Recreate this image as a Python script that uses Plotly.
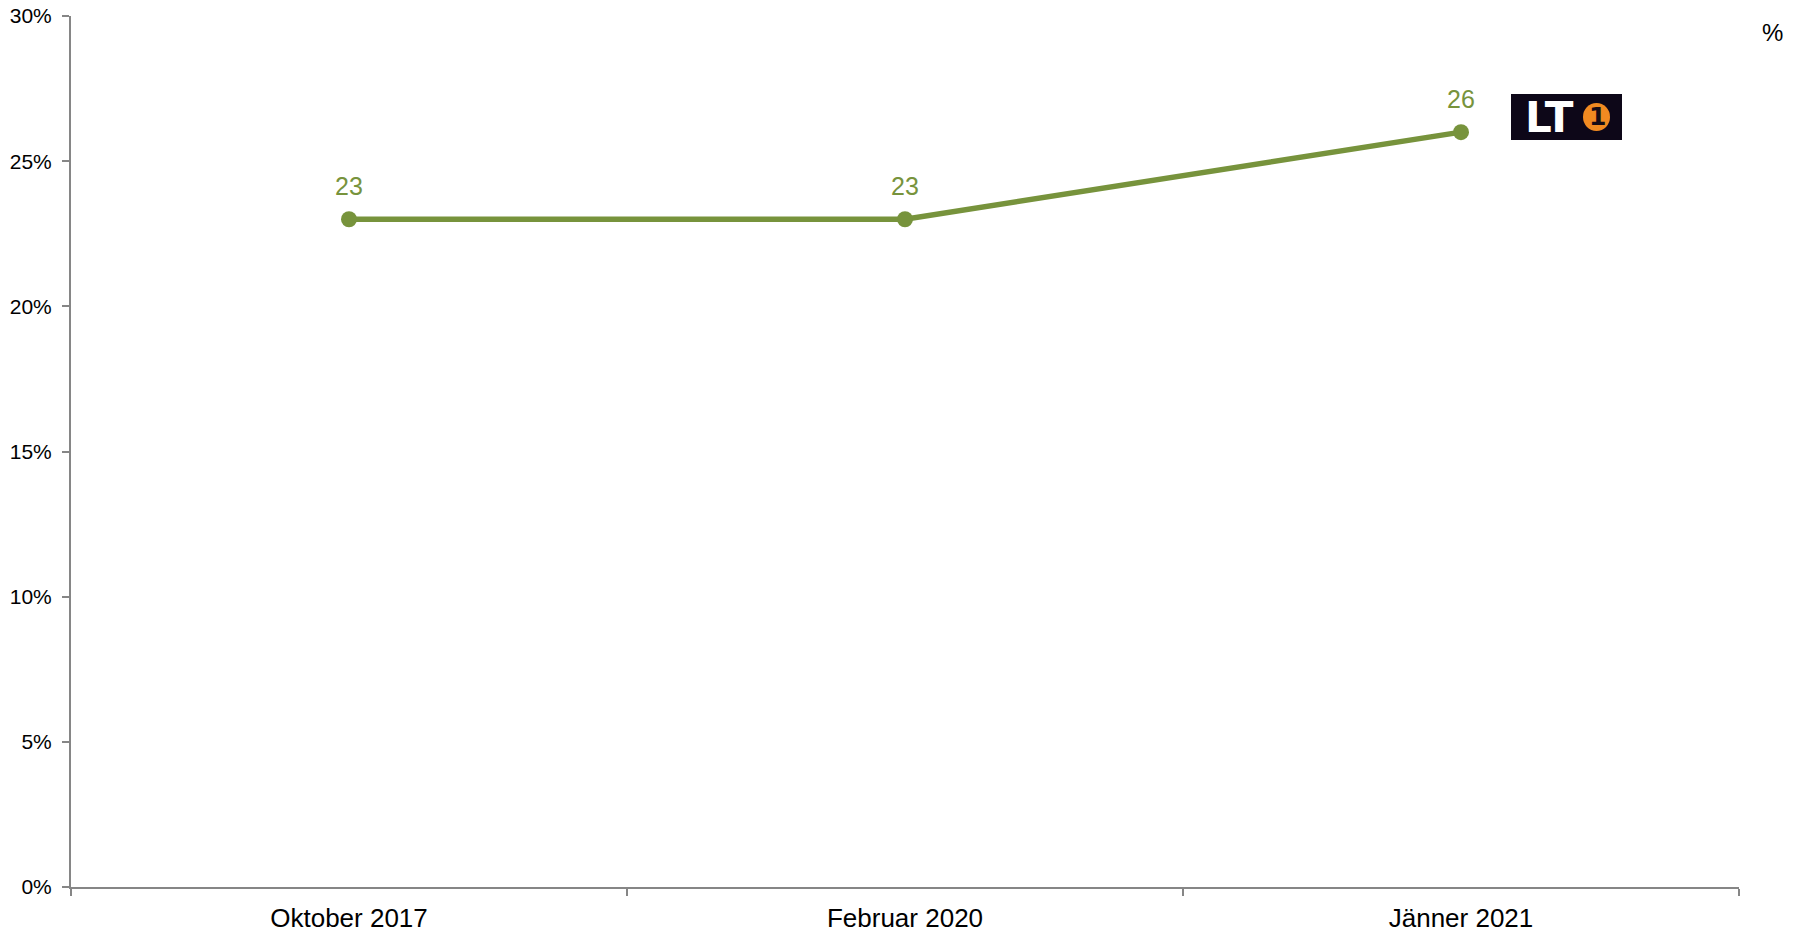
import plotly.graph_objects as go

categories = ["Oktober 2017", "Februar 2020", "Jänner 2021"]
values = [23, 23, 26]
value_labels = ["23", "23", "26"]
y_ticks = [0, 5, 10, 15, 20, 25, 30]
y_tick_labels = ["0%", "5%", "10%", "15%", "20%", "25%", "30%"]

# page has an 8px body margin; work in screen pixels and convert
OFF = 8
W, H = 1792, 924
L, R, T, B = 71 - OFF, W - (1739 - OFF), 16 - OFF, H - (887 - OFF)
PW, PH = W - L - R, H - T - B

def px(x):
    return (x - OFF - L) / PW

def py(y):
    return (H - B - (y - OFF)) / PH

GREEN = "#77933C"
AXIS = "#868686"
FONT = "Arial, Liberation Sans, sans-serif"

fig = go.Figure()
fig.add_trace(go.Scatter(
    x=categories, y=values, mode="lines+markers",
    line=dict(color=GREEN, width=5.5),
    marker=dict(color=GREEN, size=16),
    hoverinfo="skip", showlegend=False,
))

for c, v, t in zip(categories, values, value_labels):
    fig.add_annotation(x=c, y=v, text=t, showarrow=False, yshift=33,
                       font=dict(family=FONT, size=25, color=GREEN))

fig.add_annotation(xref="paper", yref="paper", x=px(1772), y=py(33), text="%",
                   xanchor="center", yanchor="middle",
                   showarrow=False, font=dict(family=FONT, size=24, color="black"))

# logo
fig.add_shape(type="rect", xref="paper", yref="paper",
              x0=px(1511), x1=px(1622), y0=py(140), y1=py(94),
              fillcolor="#0d0718", line=dict(width=0), layer="below")
fig.add_shape(type="circle", xref="paper", yref="paper",
              x0=px(1583), x1=px(1610), y0=py(131), y1=py(103),
              fillcolor="#F18A21", line=dict(width=0), layer="below")
fig.add_annotation(xref="paper", yref="paper", x=px(1549), y=py(118), text="<b>LT</b>",
                   xanchor="center", yanchor="middle",
                   showarrow=False, font=dict(family="DejaVu Sans", size=42, color="white"))
fig.add_annotation(xref="paper", yref="paper", x=px(1597), y=py(117), text="<b>1</b>",
                   xanchor="center", yanchor="middle",
                   showarrow=False, font=dict(family="DejaVu Sans", size=25, color="#160c16"))

fig.update_layout(
    width=W, height=H,
    margin=dict(l=L, r=R, t=T, b=B, autoexpand=False),
    plot_bgcolor="white", paper_bgcolor="white",
    font=dict(family=FONT, color="black"),
    xaxis=dict(
        type="category", range=[-0.5, 2.5], tickson="boundaries",
        showline=True, linecolor=AXIS, linewidth=2, ticks="outside", ticklen=7,
        tickcolor=AXIS, tickwidth=2, showgrid=False, zeroline=False,
        ticklabelstandoff=7, ticklabeloverflow="allow",
        tickfont=dict(family=FONT, size=26, color="black"), automargin=False,
    ),
    yaxis=dict(
        range=[0, 30], tickmode="array", tickvals=y_ticks, ticktext=y_tick_labels,
        showline=True, linecolor=AXIS, linewidth=2, ticks="outside", ticklen=7,
        tickcolor=AXIS, tickwidth=2, showgrid=False, zeroline=False,
        ticklabelstandoff=6, ticklabeloverflow="allow",
        tickfont=dict(family=FONT, size=21, color="black"), automargin=False,
    ),
)

fig.write_html("out.html")
